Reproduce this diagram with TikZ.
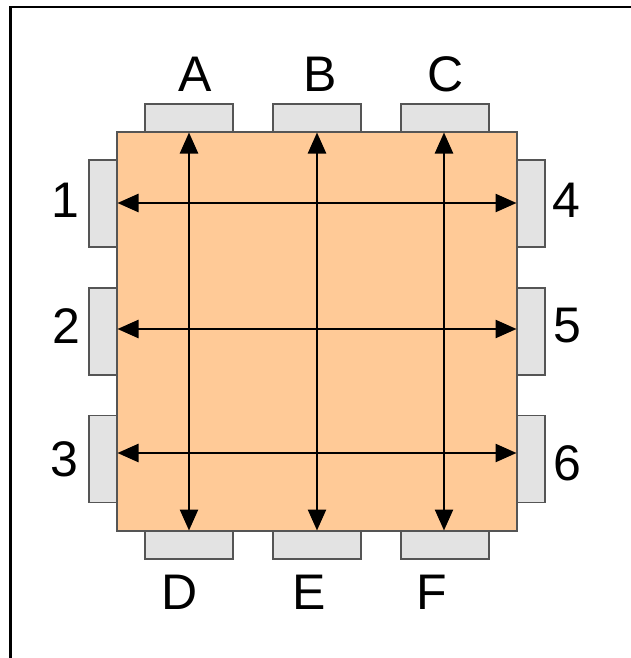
\documentclass[tikz,border=0pt]{standalone}
\usepackage{fontspec}
\setmainfont{Liberation Sans}
\usetikzlibrary{arrows.meta}
\definecolor{chipfill}{HTML}{FFCA97}
\definecolor{padfill}{HTML}{E3E3E3}
\definecolor{edgegray}{HTML}{555555}
\begin{document}
\begin{tikzpicture}[x=1pt,y=-1pt,
  padbox/.style={draw=edgegray,line width=1.6pt,fill=padfill,inner sep=0pt,outer sep=0pt},
  hpad/.style={padbox,minimum width=88pt,minimum height=28pt},
  vpad/.style={padbox,minimum width=28pt,minimum height=87pt},
  lbl/.style={anchor=base,inner sep=0pt,font=\fontsize{50}{60}\selectfont},
  wire/.style={line width=2.5pt,black,{Triangle[length=21pt,width=18pt]}-{Triangle[length=21pt,width=18pt]}}]
\useasboundingbox (0,0) rectangle (631,658);
\fill[white] (0,0) rectangle (631,658);
\draw[line width=2.8pt,black] (10.5,658) -- (10.5,7) -- (631,7);
% pads
\node[hpad] (pA) at (189,118) {};
\node[hpad] (pB) at (317,118) {};
\node[hpad] (pC) at (445,118) {};
\node[hpad] (pD) at (189,545) {};
\node[hpad] (pE) at (317,545) {};
\node[hpad] (pF) at (445,545) {};
\node[vpad] (p1) at (103,203.5) {};
\node[vpad] (p2) at (103,331.5) {};
\node[vpad] (p3) at (103,459) {};
\node[vpad] (p4) at (531,203.5) {};
\node[vpad] (p5) at (531,331.5) {};
\node[vpad] (p6) at (531,459) {};
% chip
\node[draw=edgegray,line width=1.6pt,fill=chipfill,minimum width=400pt,minimum height=399pt,inner sep=0pt,outer sep=0pt] (chip) at (317,331.5) {};
% arrow ends
\coordinate (tA) at (189,132.5); \coordinate (bD) at (189,530.5);
\coordinate (tB) at (317,132.5); \coordinate (bE) at (317,530.5);
\coordinate (tC) at (444,132.5); \coordinate (bF) at (444,530.5);
\coordinate (l1) at (117.5,203); \coordinate (r4) at (516.5,203);
\coordinate (l2) at (117.5,329); \coordinate (r5) at (516.5,329);
\coordinate (l3) at (117.5,453); \coordinate (r6) at (516.5,453);
\draw[wire] (tA) -- (bD);
\draw[wire] (tB) -- (bE);
\draw[wire] (tC) -- (bF);
\draw[wire] (l1) -- (r4);
\draw[wire] (l2) -- (r5);
\draw[wire] (l3) -- (r6);
% labels
\node[lbl] (tlA) at (195,92) {A};
\node[lbl] (tlB) at (320,92) {B};
\node[lbl] (tlC) at (446,92) {C};
\node[lbl] (tlD) at (180,609) {D};
\node[lbl] (tlE) at (309,609) {E};
\node[lbl] (tlF) at (432,609) {F};
\node[lbl] (tl1) at (65,217) {1};
\node[lbl] (tl2) at (66,343) {2};
\node[lbl] (tl3) at (64,476) {3};
\node[lbl] (tl4) at (566,217) {4};
\node[lbl] (tl5) at (567,342) {5};
\node[lbl] (tl6) at (567,480) {6};
\end{tikzpicture}
\end{document}
